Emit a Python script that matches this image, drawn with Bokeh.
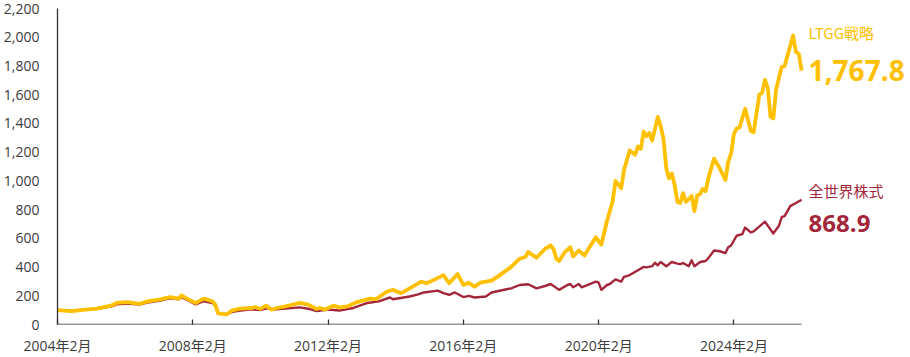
import pandas as pd
from bokeh.plotting import figure
from bokeh.models import FixedTicker, NumeralTickFormatter, Label, Range1d, ColumnDataSource
from bokeh.embed import file_html
from bokeh.resources import INLINE

# ---------------- data ----------------
ltgg_dates = [
    "2004-02", "2004-07", "2004-12", "2005-04", "2005-09", "2005-11", "2006-03", "2006-07", "2006-10",
    "2007-02", "2007-06", "2007-09", "2007-10", "2007-12", "2008-03", "2008-06", "2008-09", "2008-10",
    "2008-11", "2009-02", "2009-04", "2009-07", "2009-11", "2009-12", "2010-02", "2010-04", "2010-06",
    "2010-08", "2010-10", "2011-04", "2011-07", "2011-10", "2011-11", "2012-01", "2012-04", "2012-06",
    "2012-09", "2012-12", "2013-05", "2013-07", "2013-11", "2014-01", "2014-04", "2014-07", "2014-11",
    "2015-01", "2015-04", "2015-07", "2015-09", "2015-12", "2016-02", "2016-04", "2016-05", "2016-06",
    "2016-08", "2016-12", "2017-03", "2017-07", "2017-10", "2017-12", "2018-01", "2018-04", "2018-07",
    "2018-09", "2018-10", "2018-11", "2018-12", "2019-02", "2019-04", "2019-05", "2019-07", "2019-09",
    "2020-01", "2020-03", "2020-05", "2020-07", "2020-08", "2020-10", "2020-11", "2021-01", "2021-03",
    "2021-04", "2021-05", "2021-06", "2021-07", "2021-08", "2021-09", "2021-11", "2021-12", "2022-01",
    "2022-02", "2022-03", "2022-04", "2022-05", "2022-06", "2022-07", "2022-08", "2022-09", "2022-11",
    "2022-12", "2023-01", "2023-02", "2023-03", "2023-04", "2023-05", "2023-07", "2023-09", "2023-11",
    "2023-12", "2024-01", "2024-02", "2024-03", "2024-04", "2024-06", "2024-08", "2024-09", "2024-11",
    "2024-12", "2025-01", "2025-02", "2025-03", "2025-04", "2025-05", "2025-07", "2025-08", "2025-11",
    "2025-12", "2026-01", "2026-02",
]
ltgg_values = [
    100, 93, 104, 111, 131, 150, 156, 143, 161,
    173, 191, 180, 202, 180, 150, 180, 161, 138,
    77, 70, 99, 111, 115, 122, 108, 131, 104,
    115, 122, 150, 138, 108, 115, 104, 131, 119,
    127, 154, 180, 176, 230, 241, 218, 252, 298,
    287, 314, 344, 287, 351, 276, 291, 276, 264,
    291, 305, 344, 401, 458, 470, 504, 465, 526,
    550, 526, 458, 442, 504, 538, 474, 515, 481,
    607, 557, 721, 858, 999, 949, 1075, 1212, 1182,
    1239, 1223, 1342, 1310, 1333, 1280, 1445, 1383, 1292,
    1086, 1018, 1052, 972, 853, 846, 915, 853, 895,
    790, 899, 908, 944, 927, 1018, 1155, 1086, 1006,
    1132, 1189, 1326, 1365, 1372, 1502, 1349, 1338, 1600,
    1612, 1703, 1646, 1447, 1434, 1635, 1794, 1799, 2012,
    1897, 1886, 1767.8,
]

world_dates = [
    "2004-02", "2004-07", "2004-12", "2005-04", "2005-09", "2005-11", "2006-03", "2006-07", "2006-10",
    "2007-02", "2007-06", "2007-09", "2007-10", "2007-12", "2008-03", "2008-06", "2008-09", "2008-10",
    "2008-11", "2009-02", "2009-04", "2009-07", "2009-11", "2010-02", "2010-04", "2010-07", "2011-04",
    "2011-07", "2011-10", "2012-02", "2012-06", "2012-11", "2013-04", "2013-08", "2013-12", "2014-01",
    "2014-07", "2014-10", "2014-12", "2015-05", "2015-07", "2015-09", "2015-11", "2016-02", "2016-04",
    "2016-06", "2016-10", "2016-12", "2017-07", "2017-10", "2018-01", "2018-04", "2018-07", "2018-09",
    "2018-12", "2019-03", "2019-04", "2019-05", "2019-07", "2019-08", "2020-01", "2020-02", "2020-03",
    "2020-05", "2020-06", "2020-08", "2020-10", "2020-11", "2021-01", "2021-04", "2021-06", "2021-07",
    "2021-09", "2021-10", "2021-11", "2021-12", "2022-02", "2022-04", "2022-06", "2022-07", "2022-08",
    "2022-10", "2022-11", "2022-12", "2023-02", "2023-04", "2023-05", "2023-07", "2023-09", "2023-11",
    "2023-12", "2024-01", "2024-03", "2024-05", "2024-06", "2024-08", "2024-09", "2025-01", "2025-04",
    "2025-06", "2025-07", "2025-08", "2025-10", "2025-12", "2026-02",
]
world_values = [
    100, 95, 104, 110, 125, 140, 145, 138, 152,
    165, 182, 175, 190, 172, 140, 162, 150, 130,
    80, 72, 88, 97, 105, 100, 112, 104, 119,
    110, 93, 104, 97, 115, 150, 161, 188, 176,
    195, 210, 223, 236, 218, 207, 223, 191, 199,
    188, 195, 223, 252, 275, 280, 252, 268, 282,
    241, 275, 282, 259, 282, 259, 298, 291, 241,
    275, 282, 314, 298, 332, 344, 378, 401, 398,
    406, 430, 412, 435, 406, 435, 424, 420, 428,
    406, 447, 406, 435, 442, 462, 515, 510, 497,
    538, 550, 618, 629, 675, 641, 648, 716, 634,
    687, 748, 755, 824, 846, 868.9,
]

series_names = ["LTGG戦略", "全世界株式"]
y_ticks = [0, 200, 400, 600, 800, 1000, 1200, 1400, 1600, 1800, 2000, 2200]
x_tick_dates = ["2004-02", "2008-02", "2012-02", "2016-02", "2020-02", "2024-02"]
x_tick_labels = ["2004年2月", "2008年2月", "2012年2月", "2016年2月", "2020年2月", "2024年2月"]

# ---------------- styling ----------------
YELLOW = "#FFC000"
RED = "#A3263B"
AXIS_COLOR = "#333333"
TEXT_COLOR = "#3C3C3C"
LATIN = "'Open Sans', 'Noto Sans CJK JP'"
CJK = "'Noto Sans CJK JP'"

W, H = 910, 357
LEFT, TOP, BOTTOM = 56, 8, 29
PLOT_PX = 745          # width of the area that holds the lines
FRAME_PX = W - LEFT    # frame runs to the right edge so the end labels can sit in it

ltgg_src = ColumnDataSource(dict(x=pd.to_datetime(ltgg_dates), y=ltgg_values))
world_src = ColumnDataSource(dict(x=pd.to_datetime(world_dates), y=world_values))

x_start = pd.Timestamp(ltgg_dates[0])
x_end = pd.Timestamp(ltgg_dates[-1])
start_ms = x_start.value / 1e6
end_ms = x_end.value / 1e6
ms_per_px = (end_ms - start_ms) / PLOT_PX
range_end_ms = start_ms + ms_per_px * FRAME_PX

p = figure(
    width=W, height=H, x_axis_type="datetime",
    output_backend="svg", toolbar_location=None,
    x_range=Range1d(start_ms, range_end_ms), y_range=Range1d(0, 2200),
    min_border_left=LEFT, min_border_right=0, min_border_top=TOP, min_border_bottom=BOTTOM,
)
p.outline_line_color = None
p.background_fill_color = "white"
p.border_fill_color = "white"
p.grid.visible = False

# x baseline drawn only over the data span
p.segment(x0=[x_start], y0=[0], x1=[x_end], y1=[0], line_color=AXIS_COLOR, line_width=1.3)

p.line("x", "y", source=world_src, line_color=RED, line_width=2.4, line_join="round")
p.line("x", "y", source=ltgg_src, line_color=YELLOW, line_width=3.8, line_join="round")

# y axis
yax = p.yaxis[0]
yax.ticker = FixedTicker(ticks=y_ticks)
yax.formatter = NumeralTickFormatter(format="0,0")
yax.major_tick_in = 0
yax.major_tick_out = 0
yax.minor_tick_in = 0
yax.minor_tick_out = 0
yax.major_label_standoff = 18
yax.axis_line_color = AXIS_COLOR
yax.axis_line_width = 1.3
yax.major_label_text_font = LATIN
yax.major_label_text_font_size = "14px"
yax.major_label_text_color = TEXT_COLOR

# x axis (its own line hidden, ticks point inward)
xax = p.xaxis[0]
tick_ms = [int(pd.Timestamp(d).value // 10**6) for d in x_tick_dates]
xax.ticker = FixedTicker(ticks=tick_ms)
xax.major_label_overrides = {t: lab for t, lab in zip(tick_ms, x_tick_labels)}
xax.major_tick_in = 5
xax.major_tick_out = 0
xax.minor_tick_in = 0
xax.minor_tick_out = 0
xax.major_tick_line_color = AXIS_COLOR
xax.major_tick_line_width = 1.3
xax.major_label_standoff = 11
xax.axis_line_color = None
xax.major_label_text_font = LATIN
xax.major_label_text_font_size = "14px"
xax.major_label_text_color = TEXT_COLOR

# end labels, just to the right of the last point
lab_x = end_ms + 7 * ms_per_px

p.add_layout(Label(x=lab_x, y=2036, text=series_names[0], text_color=YELLOW,
                   text_font=CJK, text_font_size="15px", text_font_style="normal",
                   text_baseline="alphabetic", text_align="left"))
p.add_layout(Label(x=lab_x, y=1770, text=f"{ltgg_values[-1]:,.1f}", text_color=YELLOW,
                   text_font=LATIN, text_font_size="28px", text_font_style="bold",
                   text_baseline="alphabetic", text_align="left"))
p.add_layout(Label(x=lab_x, y=936, text=series_names[1], text_color=RED,
                   text_font=CJK, text_font_size="15px", text_font_style="normal",
                   text_baseline="alphabetic", text_align="left"))
p.add_layout(Label(x=lab_x, y=704, text=f"{world_values[-1]:,.1f}", text_color=RED,
                   text_font=LATIN, text_font_size="24px", text_font_style="bold",
                   text_baseline="alphabetic", text_align="left"))

open("out.html", "w").write(file_html(p, INLINE))
